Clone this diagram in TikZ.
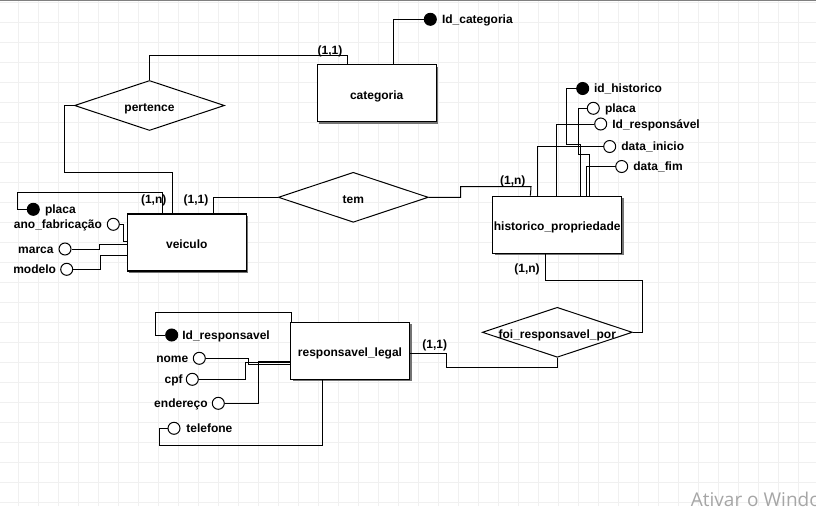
\documentclass[tikz,border=0pt]{standalone}
\usepackage{fontspec}
\setmainfont{Liberation Sans}
\newfontfamily\wmfont{Open Sans}
\usetikzlibrary{shapes.geometric,shadows}

\begin{document}
\begin{tikzpicture}[x=1pt,y=-1pt,
  every node/.style={font=\fontsize{12}{14}\selectfont\bfseries},
  gridline/.style={draw=black!6, line width=1pt},
  link/.style={draw=black, line width=1pt},
  entity/.style={draw=black, fill=white, line width=1.2pt, minimum height=57pt,
    minimum width=119pt, inner sep=0pt, text height=11.4pt, text depth=0pt,
    general shadow={fill=black!55, shadow xshift=2pt, shadow yshift=-2pt}},
  relation/.style={shape=diamond, draw=black, line width=1pt, minimum width=150pt,
    minimum height=50pt, inner sep=0pt, text height=11.4pt, text depth=0pt},
  attr/.style={circle, draw=black, fill=white, line width=1pt, minimum size=12pt, inner sep=0pt},
  keyattr/.style={attr, fill=black},
  lbl/.style={inner sep=0pt, text height=8.6pt, text depth=0pt},
  card/.style={inner sep=0pt, text height=8.6pt, text depth=0pt},
]
\useasboundingbox (0,0) rectangle (816,506);
\clip (0,0) rectangle (816,506);

% background grid
\fill[white] (0,0) rectangle (816,506);
\foreach \gx in {18,38,...,798} \draw[gridline] (\gx,0) -- (\gx,506);
\foreach \gy in {2,22,...,502} \draw[gridline] (0,\gy) -- (816,\gy);
\draw[black!50, line width=1.2pt] (0,0.6) -- (816,0.6);

% entities
\node[entity] (categoria) at (376.7,93.3) {categoria};
\node[entity] (veiculo) at (186.8,242.5) {veiculo};
\node[entity, minimum width=129pt] (hist) at (557.2,224.7) {historico\_propriedade};
\node[entity] (resp) at (350,350.8) {responsavel\_legal};

% relationships
\node[relation] (pertence) at (149.5,105.5) {\makebox[0pt]{pertence}};
\node[relation] (tem) at (353.3,197.3) {\makebox[0pt]{tem}};
\node[relation] (foi) at (557.3,332.3) {\makebox[0pt]{foi\_responsavel\_por}};

% attributes of categoria
\node[keyattr, label={[lbl,label distance=5pt]right:Id\_categoria}] (catid) at (430.3,19.3) {};

% attributes of veiculo
\node[keyattr, label={[lbl,label distance=5pt]right:placa}] (vplaca) at (33.3,209.3) {};
\node[attr, label={[lbl,label distance=4.6pt]left:ano\_fabricação}] (vano) at (113.3,224.3) {};
\node[attr, label={[lbl,label distance=4.7pt]left:marca}] (vmarca) at (65,249) {};
\node[attr, label={[lbl,label distance=4pt]left:modelo}] (vmodelo) at (66.7,269.3) {};

% attributes of historico_propriedade
\node[keyattr, label={[lbl,label distance=4.6pt]right:id\_historico}] (hid) at (582.7,88.5) {};
\node[attr, label={[lbl,label distance=5pt]right:placa}] (hplaca) at (593.3,108.3) {};
\node[attr, label={[lbl,label distance=5pt]right:Id\_responsável}] (hidr) at (600.7,124) {};
\node[attr, label={[lbl,label distance=5pt]right:data\_inicio}] (hdi) at (609.7,146.5) {};
\node[attr, label={[lbl,label distance=5pt]right:data\_fim}] (hdf) at (621.7,166.5) {};

% attributes of responsavel_legal
\node[keyattr, label={[lbl,label distance=4pt]right:Id\_responsavel}] (rid) at (171.7,335) {};
\node[attr, label={[lbl,label distance=4.3pt]left:nome}] (rnome) at (199.3,358.3) {};
\node[attr, label={[lbl,label distance=3pt]left:cpf}] (rcpf) at (192.3,379.3) {};
\node[attr, label={[lbl,label distance=4pt]left:endereço}] (rend) at (218.3,403.3) {};
\node[attr, label={[lbl,label distance=5.7pt]right:telefone}] (rtel) at (174,428.3) {};

% cardinalities
\node[card] (k1) at (330,50) {(1,1)};
\node[card] (k2) at (153.7,199.3) {(1,n)};
\node[card] (k3) at (196,199.3) {(1,1)};
\node[card] (k4) at (512.8,180.3) {(1,n)};
\node[card] (k5) at (527,268.3) {(1,n)};
\node[card] (k6) at (434.7,344.3) {(1,1)};

% relationship links
\draw[link] (pertence.north) -- (149.5,55.3) -| ([xshift=31pt]categoria.north west);
\draw[link] (pertence.west) -| (64.3,172.3) -| ([xshift=45.3pt]veiculo.north west);
\draw[link] ([xshift=87pt]veiculo.north west) |- (tem.west);
\draw[link] (tem.east) -- (460.7,197.3) |- (531,186.7) -- ([xshift=38.3pt]hist.north west);
\draw[link] ([xshift=53pt]hist.south west) |- (642.3,280.7) |- (foi.east);
\draw[link] (foi.south) |- (446.7,367.3) |- ([yshift=-2.5pt]resp.east);

% attribute links
\draw[link] ([xshift=77pt]categoria.north west) |- (catid.west);

\draw[link] ([xshift=35.3pt]veiculo.north west) |- (17.3,192.7) |- (vplaca.west);
\draw[link] (vano.east) -| (123.3,241) -- ([yshift=1.5pt]veiculo.west);
\draw[link] (vmarca.east) -| (99.3,244.3) -- ([yshift=-1.8pt]veiculo.west);
\draw[link] (vmodelo.east) -| (100,255.7) -- ([yshift=-13.2pt]veiculo.west);

\draw[link] (hid.west) -| (566.7,144.7) -| ([xshift=88.3pt]hist.north west);
\draw[link] (hplaca.west) -| (578.3,154.7) -| ([xshift=97.3pt]hist.north west);
\draw[link] (hidr.west) -| ([xshift=64pt]hist.north west);
\draw[link] (hdi.west) -| ([xshift=45.6pt]hist.north west);
\draw[link] (hdf.west) -| ([xshift=94pt]hist.north west);

\draw[link] ([xshift=1.6pt]resp.north west) |- (155,312.7) |- (rid.west);
\draw[link] (rnome.east) -| (248.3,364.3) -- ([yshift=-13.5pt]resp.west);
\draw[link] (rcpf.east) -| (245.7,362.7) -- ([yshift=-11.9pt]resp.west);
\draw[link] (rend.east) -| (258.3,361) -- ([yshift=-10.2pt]resp.west);
\draw[link] (rtel.west) -| (159.3,445.7) -| ([xshift=32.6pt]resp.south west);

% activation notice in the corner
\node[anchor=base west, inner sep=0pt, text=black!35, font=\wmfont\fontsize{19}{22}\selectfont] (wm) at (690.7,506.5) {Ativar o Windo};
\end{tikzpicture}
\end{document}
